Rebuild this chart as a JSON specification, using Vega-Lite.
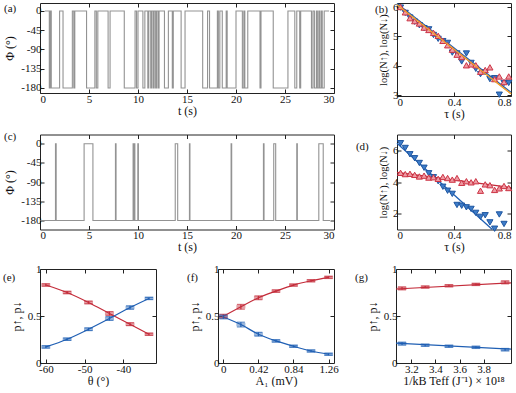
{
 "$schema": "https://vega.github.io/schema/vega-lite/v6.json",
 "background": "white",
 "padding": {"left": 2, "top": 0, "right": 0, "bottom": 0},
 "spacing": 10.5,
 "datasets": {
  "a": [{"t":0.5,"phi":0},{"t":0.95,"phi":-180},{"t":1.05,"phi":0},{"t":1.15,"phi":-180},{"t":2.0,"phi":0},{"t":2.35,"phi":-180},{"t":3.3,"phi":0},{"t":3.45,"phi":-180},{"t":3.55,"phi":0},{"t":4.75,"phi":-180},{"t":5.6,"phi":0},{"t":5.75,"phi":-180},{"t":5.9,"phi":0},{"t":6.95,"phi":-180},{"t":7.15,"phi":0},{"t":8.6,"phi":-180},{"t":9.7,"phi":0},{"t":9.85,"phi":-180},{"t":10.0,"phi":0},{"t":10.5,"phi":-180},{"t":10.7,"phi":0},{"t":11.0,"phi":-180},{"t":11.1,"phi":0},{"t":11.3,"phi":-180},{"t":11.4,"phi":0},{"t":11.55,"phi":-180},{"t":11.65,"phi":0},{"t":11.8,"phi":-180},{"t":11.9,"phi":0},{"t":12.05,"phi":-180},{"t":12.15,"phi":0},{"t":12.7,"phi":-180},{"t":13.1,"phi":0},{"t":13.5,"phi":-180},{"t":13.6,"phi":0},{"t":14.4,"phi":-180},{"t":14.8,"phi":0},{"t":16.6,"phi":-180},{"t":17.1,"phi":0},{"t":17.3,"phi":-180},{"t":18.1,"phi":0},{"t":18.2,"phi":-180},{"t":18.35,"phi":0},{"t":18.6,"phi":-180},{"t":19.0,"phi":0},{"t":19.1,"phi":-180},{"t":20.0,"phi":0},{"t":20.65,"phi":-180},{"t":20.8,"phi":0},{"t":20.9,"phi":-180},{"t":21.2,"phi":0},{"t":22.45,"phi":-180},{"t":22.55,"phi":0},{"t":23.8,"phi":-180},{"t":25.3,"phi":0},{"t":26.0,"phi":-180},{"t":26.2,"phi":0},{"t":26.5,"phi":-180},{"t":26.6,"phi":0},{"t":27.7,"phi":-180},{"t":27.85,"phi":0},{"t":28.0,"phi":-180},{"t":28.2,"phi":0},{"t":28.3,"phi":-180},{"t":28.45,"phi":0},{"t":28.55,"phi":-180},{"t":28.7,"phi":0},{"t":28.8,"phi":-180},{"t":29.0,"phi":0},{"t":29.5,"phi":0}],
  "c": [{"t":0.05,"phi":-180},{"t":1.58,"phi":0},{"t":1.65,"phi":-180},{"t":4.5,"phi":0},{"t":5.4,"phi":-180},{"t":7.7,"phi":0},{"t":7.76,"phi":-180},{"t":9.5,"phi":0},{"t":9.56,"phi":-180},{"t":9.62,"phi":0},{"t":9.68,"phi":-180},{"t":9.98,"phi":0},{"t":10.04,"phi":-180},{"t":13.8,"phi":0},{"t":14.05,"phi":-180},{"t":15.25,"phi":0},{"t":15.3,"phi":-180},{"t":19.5,"phi":0},{"t":19.56,"phi":-180},{"t":22.8,"phi":0},{"t":22.86,"phi":-180},{"t":23.85,"phi":0},{"t":24.05,"phi":-180},{"t":26.2,"phi":0},{"t":26.26,"phi":-180},{"t":28.45,"phi":0},{"t":28.9,"phi":-180},{"t":29.6,"phi":-180}],
  "b_fit": [{"tau":0,"v":6.12,"s":"down"},{"tau":0.8,"v":3.1,"s":"down"},{"tau":0,"v":6.08,"s":"orange"},{"tau":0.8,"v":3.05,"s":"orange"}],
  "b_pts": [
   {"tau":0.025,"v":5.98,"s":"down"},{"tau":0.058,"v":5.80,"s":"down"},{"tau":0.091,"v":5.64,"s":"down"},{"tau":0.124,"v":5.50,"s":"down"},{"tau":0.157,"v":5.38,"s":"down"},{"tau":0.19,"v":5.28,"s":"down"},{"tau":0.223,"v":5.24,"s":"down"},{"tau":0.256,"v":5.05,"s":"down"},{"tau":0.289,"v":4.92,"s":"down"},{"tau":0.322,"v":4.84,"s":"down"},{"tau":0.355,"v":4.78,"s":"down"},{"tau":0.388,"v":4.45,"s":"down"},{"tau":0.421,"v":4.42,"s":"down"},{"tau":0.454,"v":4.15,"s":"down"},{"tau":0.487,"v":4.42,"s":"down"},{"tau":0.52,"v":4.10,"s":"down"},{"tau":0.553,"v":3.90,"s":"down"},{"tau":0.586,"v":3.72,"s":"down"},{"tau":0.619,"v":3.78,"s":"down"},{"tau":0.652,"v":3.55,"s":"down"},{"tau":0.685,"v":3.58,"s":"down"},{"tau":0.718,"v":3.02,"s":"down"},{"tau":0.751,"v":3.42,"s":"down"},{"tau":0.784,"v":3.42,"s":"down"},
   {"tau":0.025,"v":6.0,"s":"up"},{"tau":0.058,"v":5.82,"s":"up"},{"tau":0.091,"v":5.62,"s":"up"},{"tau":0.124,"v":5.52,"s":"up"},{"tau":0.157,"v":5.44,"s":"up"},{"tau":0.19,"v":5.30,"s":"up"},{"tau":0.223,"v":5.22,"s":"up"},{"tau":0.256,"v":5.12,"s":"up"},{"tau":0.289,"v":5.02,"s":"up"},{"tau":0.322,"v":4.85,"s":"up"},{"tau":0.355,"v":4.70,"s":"up"},{"tau":0.388,"v":4.55,"s":"up"},{"tau":0.421,"v":4.38,"s":"up"},{"tau":0.454,"v":4.30,"s":"up"},{"tau":0.487,"v":4.02,"s":"up"},{"tau":0.52,"v":4.05,"s":"up"},{"tau":0.553,"v":4.02,"s":"up"},{"tau":0.586,"v":3.80,"s":"up"},{"tau":0.619,"v":3.86,"s":"up"},{"tau":0.652,"v":3.95,"s":"up"},{"tau":0.685,"v":3.55,"s":"up"},{"tau":0.718,"v":3.64,"s":"up"},{"tau":0.751,"v":3.45,"s":"up"},{"tau":0.784,"v":3.64,"s":"up"}],
  "d_fit": [{"tau":0,"v":6.45,"s":"down"},{"tau":0.669,"v":1.0,"s":"down"},{"tau":0,"v":4.6,"s":"up"},{"tau":0.8,"v":3.65,"s":"up"}],
  "d_pts": [
   {"tau":0.025,"v":6.45,"s":"down"},{"tau":0.058,"v":6.15,"s":"down"},{"tau":0.091,"v":5.75,"s":"down"},{"tau":0.124,"v":5.50,"s":"down"},{"tau":0.157,"v":5.20,"s":"down"},{"tau":0.19,"v":4.90,"s":"down"},{"tau":0.223,"v":4.55,"s":"down"},{"tau":0.256,"v":4.30,"s":"down"},{"tau":0.289,"v":4.05,"s":"down"},{"tau":0.322,"v":3.70,"s":"down"},{"tau":0.355,"v":3.45,"s":"down"},{"tau":0.388,"v":3.25,"s":"down"},{"tau":0.421,"v":2.55,"s":"down"},{"tau":0.454,"v":2.50,"s":"down"},{"tau":0.487,"v":2.40,"s":"down"},{"tau":0.52,"v":2.30,"s":"down"},{"tau":0.553,"v":2.05,"s":"down"},{"tau":0.586,"v":1.80,"s":"down"},{"tau":0.619,"v":1.90,"s":"down"},{"tau":0.652,"v":1.45,"s":"down"},{"tau":0.685,"v":1.05,"s":"down"},{"tau":0.718,"v":1.95,"s":"down"},{"tau":0.751,"v":1.35,"s":"down"},
   {"tau":0.025,"v":4.58,"s":"up"},{"tau":0.058,"v":4.50,"s":"up"},{"tau":0.091,"v":4.52,"s":"up"},{"tau":0.124,"v":4.45,"s":"up"},{"tau":0.157,"v":4.35,"s":"up"},{"tau":0.19,"v":4.40,"s":"up"},{"tau":0.223,"v":4.28,"s":"up"},{"tau":0.256,"v":4.30,"s":"up"},{"tau":0.289,"v":4.20,"s":"up"},{"tau":0.322,"v":4.32,"s":"up"},{"tau":0.355,"v":4.25,"s":"up"},{"tau":0.388,"v":4.15,"s":"up"},{"tau":0.421,"v":4.25,"s":"up"},{"tau":0.454,"v":3.95,"s":"up"},{"tau":0.487,"v":4.05,"s":"up"},{"tau":0.52,"v":3.98,"s":"up"},{"tau":0.553,"v":4.05,"s":"up"},{"tau":0.586,"v":3.45,"s":"up"},{"tau":0.619,"v":3.85,"s":"up"},{"tau":0.652,"v":3.80,"s":"up"},{"tau":0.685,"v":3.50,"s":"up"},{"tau":0.718,"v":3.60,"s":"up"},{"tau":0.751,"v":3.75,"s":"up"},{"tau":0.784,"v":3.62,"s":"up"}],
  "e": [
   {"x":-60,"p":0.83,"lo":0.818,"hi":0.842,"s":"up"},{"x":-54.5,"p":0.75,"lo":0.738,"hi":0.762,"s":"up"},{"x":-49,"p":0.644,"lo":0.63,"hi":0.658,"s":"up"},{"x":-43.6,"p":0.527,"lo":0.507,"hi":0.547,"s":"up"},{"x":-38.3,"p":0.413,"lo":0.398,"hi":0.428,"s":"up"},{"x":-33.4,"p":0.306,"lo":0.295,"hi":0.317,"s":"up"},
   {"x":-60,"p":0.171,"lo":0.159,"hi":0.183,"s":"down"},{"x":-54.5,"p":0.253,"lo":0.241,"hi":0.265,"s":"down"},{"x":-49,"p":0.359,"lo":0.345,"hi":0.373,"s":"down"},{"x":-43.6,"p":0.473,"lo":0.453,"hi":0.493,"s":"down"},{"x":-38.3,"p":0.59,"lo":0.572,"hi":0.608,"s":"down"},{"x":-33.4,"p":0.687,"lo":0.676,"hi":0.698,"s":"down"}],
  "f": [
   {"x":0,"p":0.498,"lo":0.478,"hi":0.518,"s":"up"},{"x":0.21,"p":0.598,"lo":0.573,"hi":0.623,"s":"up"},{"x":0.42,"p":0.694,"lo":0.674,"hi":0.714,"s":"up"},{"x":0.63,"p":0.765,"lo":0.753,"hi":0.777,"s":"up"},{"x":0.84,"p":0.829,"lo":0.819,"hi":0.839,"s":"up"},{"x":1.05,"p":0.875,"lo":0.865,"hi":0.885,"s":"up"},{"x":1.26,"p":0.911,"lo":0.901,"hi":0.921,"s":"up"},
   {"x":0,"p":0.49,"lo":0.47,"hi":0.51,"s":"down"},{"x":0.21,"p":0.409,"lo":0.384,"hi":0.434,"s":"down"},{"x":0.42,"p":0.306,"lo":0.286,"hi":0.326,"s":"down"},{"x":0.63,"p":0.235,"lo":0.223,"hi":0.247,"s":"down"},{"x":0.84,"p":0.178,"lo":0.168,"hi":0.188,"s":"down"},{"x":1.05,"p":0.128,"lo":0.118,"hi":0.138,"s":"down"},{"x":1.26,"p":0.093,"lo":0.083,"hi":0.103,"s":"down"}],
  "g": [
   {"x":3.123,"p":0.794,"lo":0.779,"hi":0.809,"s":"up"},{"x":3.315,"p":0.808,"lo":0.798,"hi":0.818,"s":"up"},{"x":3.512,"p":0.822,"lo":0.812,"hi":0.832,"s":"up"},{"x":3.736,"p":0.836,"lo":0.826,"hi":0.846,"s":"up"},{"x":3.978,"p":0.858,"lo":0.843,"hi":0.873,"s":"up"},
   {"x":3.123,"p":0.206,"lo":0.191,"hi":0.221,"s":"down"},{"x":3.315,"p":0.189,"lo":0.179,"hi":0.199,"s":"down"},{"x":3.512,"p":0.178,"lo":0.168,"hi":0.188,"s":"down"},{"x":3.736,"p":0.167,"lo":0.157,"hi":0.177,"s":"down"},{"x":3.978,"p":0.142,"lo":0.13,"hi":0.154,"s":"down"}],
  "g_fit": [{"x":3.073,"p":0.787,"s":"up"},{"x":4.027,"p":0.852,"s":"up"},{"x":3.073,"p":0.212,"s":"down"},{"x":4.027,"p":0.148,"s":"down"}]
 },
 "vconcat": [
  {"hconcat": [
   {"width": 294, "height": 90,
    "resolve": {"axis": {"x": "independent", "y": "independent"}},
    "layer": [
     {"data": {"name": "a"},
      "mark": {"type": "line", "interpolate": "step-after", "color": "#939393", "strokeWidth": 1.1},
      "encoding": {
       "x": {"field": "t", "type": "quantitative", "scale": {"domain": [0, 30], "nice": false}, "axis": {"values": [0,5,10,15,20,25,30], "title": "t (s)", "labelExpr": "datum.value + ''"}},
       "y": {"field": "phi", "type": "quantitative", "scale": {"domain": [-191.7, 18.7], "nice": false, "zero": false}, "axis": {"values": [0,-45,-90,-135,-180], "title": "Φ (°)", "labelExpr": "datum.value + ''"}}
      }},
     {"data": {"values": [{"lab": "(a)"}]},
      "mark": {"type": "text", "align": "left", "baseline": "middle", "fontSize": 11, "color": "#111"},
      "encoding": {
       "text": {"field": "lab"},
       "x": {"datum": -3.67, "type": "quantitative", "axis": {"orient": "top", "labels": false, "title": null, "values": [5,10,15,20,25]}},
       "y": {"datum": 5.8, "type": "quantitative", "axis": {"orient": "right", "labels": false, "title": null, "values": [0,-45,-90,-135,-180]}}
      }}
    ]},
   {"width": 114, "height": 93,
    "resolve": {"axis": {"x": "independent", "y": "independent"}},
    "layer": [
     {"data": {"name": "b_fit"}, "mark": {"type": "line", "strokeWidth": 1.3},
      "encoding": {
       "x": {"field": "tau", "type": "quantitative", "scale": {"domain": [0, 0.8], "nice": false}, "axis": {"values": [0,0.4,0.8], "title": "τ (s)", "labelExpr": "datum.value + ''"}},
       "y": {"field": "v", "type": "quantitative", "scale": {"domain": [2.976, 6.136], "nice": false, "zero": false}, "axis": {"values": [3,4,5,6], "title": "log(N↑), log(N↓)", "titleFontSize": 10.5, "labelExpr": "datum.value + ''"}},
       "color": {"field": "s", "type": "nominal", "scale": {"domain": ["up","down","orange"], "range": ["#c42c3a","#1f5fb4","#f0a030"]}, "legend": null}}},
     {"data": {"name": "b_pts"}, "mark": {"type": "point", "filled": true, "size": 38, "strokeWidth": 1, "opacity": 1},
      "encoding": {
       "x": {"field": "tau", "type": "quantitative", "axis": null},
       "y": {"field": "v", "type": "quantitative", "axis": null},
       "shape": {"field": "s", "type": "nominal", "scale": {"domain": ["up","down"], "range": ["triangle-up","triangle-down"]}, "legend": null},
       "fill": {"field": "s", "type": "nominal", "scale": {"domain": ["up","down"], "range": ["#ee9aa3","#3d7cc9"]}, "legend": null},
       "stroke": {"field": "s", "type": "nominal", "scale": {"domain": ["up","down"], "range": ["#cc3344","#1f56a0"]}, "legend": null}}},
     {"data": {"name": "b_fit"}, "transform": [{"filter": "datum.s == 'orange'"}], "mark": {"type": "line", "strokeWidth": 1.3},
      "encoding": {
       "x": {"field": "tau", "type": "quantitative", "axis": null},
       "y": {"field": "v", "type": "quantitative", "axis": null},
       "color": {"field": "s", "type": "nominal", "scale": {"domain": ["up","down","orange"], "range": ["#c42c3a","#1f5fb4","#f0a030"]}, "legend": null}}},
     {"data": {"values": [{"lab": "(b)"}]},
      "mark": {"type": "text", "align": "left", "baseline": "middle", "fontSize": 11, "color": "#111"},
      "encoding": {
       "text": {"field": "lab"},
       "x": {"datum": -0.154, "type": "quantitative", "axis": {"orient": "top", "labels": false, "title": null, "values": [0.4]}},
       "y": {"datum": 5.915, "type": "quantitative", "axis": {"orient": "right", "labels": false, "title": null, "values": [3,4,5,6]}}
      }}
    ]}
  ], "spacing": 63, "bounds": "flush"},
  {"vconcat": [
   {"hconcat": [
    {"width": 294, "height": 95,
     "resolve": {"axis": {"x": "independent", "y": "independent"}},
     "layer": [
      {"data": {"name": "c"},
       "mark": {"type": "line", "interpolate": "step-after", "color": "#939393", "strokeWidth": 1.1},
       "encoding": {
        "x": {"field": "t", "type": "quantitative", "scale": {"domain": [0, 30], "nice": false}, "axis": {"values": [0,5,10,15,20,25,30], "title": "t (s)", "labelExpr": "datum.value + ''"}},
        "y": {"field": "phi", "type": "quantitative", "scale": {"domain": [-201.1, 21.8], "nice": false, "zero": false}, "axis": {"values": [0,-45,-90,-135,-180], "title": "Φ (°)", "labelExpr": "datum.value + ''"}}
       }},
      {"data": {"values": [{"lab": "(c)"}]},
       "mark": {"type": "text", "align": "left", "baseline": "middle", "fontSize": 11, "color": "#111"},
       "encoding": {
        "text": {"field": "lab"},
        "x": {"datum": -3.67, "type": "quantitative", "axis": {"orient": "top", "labels": false, "title": null, "values": [5,10,15,20,25]}},
        "y": {"datum": 15.9, "type": "quantitative", "axis": {"orient": "right", "labels": false, "title": null, "values": [0,-45,-90,-135,-180]}}
       }}
     ]},
    {"width": 114, "height": 95,
     "resolve": {"axis": {"x": "independent", "y": "independent"}},
     "layer": [
      {"data": {"name": "d_fit"}, "mark": {"type": "line", "strokeWidth": 1.3},
       "encoding": {
        "x": {"field": "tau", "type": "quantitative", "scale": {"domain": [0, 0.8], "nice": false}, "axis": {"values": [0,0.4,0.8], "title": "τ (s)", "labelExpr": "datum.value + ''"}},
        "y": {"field": "v", "type": "quantitative", "scale": {"domain": [1, 7], "nice": false, "zero": false}, "axis": {"values": [2,4,6], "title": "log(N↑), log(N↓)", "titleFontSize": 10.5, "labelExpr": "datum.value + ''"}},
        "color": {"field": "s", "type": "nominal", "scale": {"domain": ["up","down","orange"], "range": ["#c42c3a","#1f5fb4","#f0a030"]}, "legend": null}}},
      {"data": {"name": "d_pts"}, "mark": {"type": "point", "filled": true, "size": 38, "strokeWidth": 1, "opacity": 1},
       "encoding": {
        "x": {"field": "tau", "type": "quantitative", "axis": null},
        "y": {"field": "v", "type": "quantitative", "axis": null},
        "shape": {"field": "s", "type": "nominal", "scale": {"domain": ["up","down"], "range": ["triangle-up","triangle-down"]}, "legend": null},
        "fill": {"field": "s", "type": "nominal", "scale": {"domain": ["up","down"], "range": ["#ee9aa3","#3d7cc9"]}, "legend": null},
        "stroke": {"field": "s", "type": "nominal", "scale": {"domain": ["up","down"], "range": ["#cc3344","#1f56a0"]}, "legend": null}}},
      {"data": {"values": [{"lab": "(d)"}]},
       "mark": {"type": "text", "align": "left", "baseline": "middle", "fontSize": 11, "color": "#111"},
       "encoding": {
        "text": {"field": "lab"},
        "x": {"datum": -0.288, "type": "quantitative", "axis": {"orient": "top", "labels": false, "title": null, "values": [0.4]}},
        "y": {"datum": 6.21, "type": "quantitative", "axis": {"orient": "right", "labels": false, "title": null, "values": [2,4,6]}}
       }}
     ]}
   ], "spacing": 63, "bounds": "flush"},
   {"hconcat": [
    {"width": 116, "height": 94,
     "data": {"name": "e"},
     "resolve": {"axis": {"x": "independent", "y": "independent"}},
     "layer": [
      {"mark": {"type": "line", "interpolate": "monotone", "strokeWidth": 1.2},
       "encoding": {
        "x": {"field": "x", "type": "quantitative", "scale": {"domain": [-61.5, -31.6], "nice": false, "zero": false}, "axis": {"values": [-60,-50,-40], "title": "θ (°)", "labelExpr": "datum.value + ''"}},
        "y": {"field": "p", "type": "quantitative", "scale": {"domain": [0, 1], "nice": false}, "axis": {"values": [0,0.5,1], "title": "p↑, p↓", "labelExpr": "datum.value + ''"}},
        "color": {"field": "s", "type": "nominal", "scale": {"domain": ["up","down","orange"], "range": ["#c42c3a","#1f5fb4","#f0a030"]}, "legend": null}}},
      {"mark": {"type": "tick", "orient": "horizontal", "size": 9, "thickness": 3.5, "opacity": 0.45},
       "encoding": {
        "x": {"field": "x", "type": "quantitative", "axis": null},
        "y": {"field": "p", "type": "quantitative", "axis": null},
        "color": {"field": "s", "type": "nominal", "scale": {"domain": ["up","down","orange"], "range": ["#c42c3a","#1f5fb4","#f0a030"]}, "legend": null}}},
      {"mark": {"type": "errorbar", "ticks": true, "size": 8, "thickness": 1.2},
       "encoding": {
        "x": {"field": "x", "type": "quantitative", "axis": null},
        "y": {"field": "lo", "type": "quantitative", "axis": null},
        "y2": {"field": "hi"},
        "color": {"field": "s", "type": "nominal", "scale": {"domain": ["up","down","orange"], "range": ["#c42c3a","#1f5fb4","#f0a030"]}, "legend": null}}},
      {"data": {"values": [{"lab": "(e)"}]},
       "mark": {"type": "text", "align": "left", "baseline": "middle", "fontSize": 11, "color": "#111"},
       "encoding": {
        "text": {"field": "lab"},
        "x": {"datum": -71.04, "type": "quantitative", "axis": {"orient": "top", "labels": false, "title": null, "values": [-60,-50,-40]}},
        "y": {"datum": 0.904, "type": "quantitative", "axis": {"orient": "right", "labels": false, "title": null, "values": [0.5]}}
       }}
     ]},
    {"width": 116, "height": 94,
     "data": {"name": "f"},
     "resolve": {"axis": {"x": "independent", "y": "independent"}},
     "layer": [
      {"mark": {"type": "line", "interpolate": "monotone", "strokeWidth": 1.2},
       "encoding": {
        "x": {"field": "x", "type": "quantitative", "scale": {"domain": [-0.064, 1.325], "nice": false, "zero": false}, "axis": {"values": [0,0.42,0.84,1.26], "title": "A₁ (mV)", "labelExpr": "datum.value + ''"}},
        "y": {"field": "p", "type": "quantitative", "scale": {"domain": [0, 1], "nice": false}, "axis": {"values": [0,0.5,1], "title": "p↑, p↓", "labelExpr": "datum.value + ''"}},
        "color": {"field": "s", "type": "nominal", "scale": {"domain": ["up","down","orange"], "range": ["#c42c3a","#1f5fb4","#f0a030"]}, "legend": null}}},
      {"mark": {"type": "tick", "orient": "horizontal", "size": 9, "thickness": 3.5, "opacity": 0.45},
       "encoding": {
        "x": {"field": "x", "type": "quantitative", "axis": null},
        "y": {"field": "p", "type": "quantitative", "axis": null},
        "color": {"field": "s", "type": "nominal", "scale": {"domain": ["up","down","orange"], "range": ["#c42c3a","#1f5fb4","#f0a030"]}, "legend": null}}},
      {"mark": {"type": "errorbar", "ticks": true, "size": 8, "thickness": 1.2},
       "encoding": {
        "x": {"field": "x", "type": "quantitative", "axis": null},
        "y": {"field": "lo", "type": "quantitative", "axis": null},
        "y2": {"field": "hi"},
        "color": {"field": "s", "type": "nominal", "scale": {"domain": ["up","down","orange"], "range": ["#c42c3a","#1f5fb4","#f0a030"]}, "legend": null}}},
      {"data": {"values": [{"lab": "(f)"}]},
       "mark": {"type": "text", "align": "left", "baseline": "middle", "fontSize": 11, "color": "#111"},
       "encoding": {
        "text": {"field": "lab"},
        "x": {"datum": -0.435, "type": "quantitative", "axis": {"orient": "top", "labels": false, "title": null, "values": [0,0.42,0.84,1.26]}},
        "y": {"datum": 0.904, "type": "quantitative", "axis": {"orient": "right", "labels": false, "title": null, "values": [0.5]}}
       }}
     ]},
    {"width": 115, "height": 94,
     "resolve": {"axis": {"x": "independent", "y": "independent"}},
     "layer": [
      {"data": {"name": "g_fit"}, "mark": {"type": "line", "strokeWidth": 1.2},
       "encoding": {
        "x": {"field": "x", "type": "quantitative", "scale": {"domain": [3.073, 4.027], "nice": false, "zero": false}, "axis": {"values": [3.2,3.4,3.6,3.8], "title": "1/kB Teff (J⁻¹) × 10¹⁸", "labelExpr": "datum.value + ''"}},
        "y": {"field": "p", "type": "quantitative", "scale": {"domain": [0, 1], "nice": false}, "axis": {"values": [0,0.5,1], "title": "p↑, p↓", "labelExpr": "datum.value + ''"}},
        "color": {"field": "s", "type": "nominal", "scale": {"domain": ["up","down","orange"], "range": ["#c42c3a","#1f5fb4","#f0a030"]}, "legend": null}}},
      {"data": {"name": "g"}, "mark": {"type": "tick", "orient": "horizontal", "size": 9, "thickness": 3.5, "opacity": 0.45},
       "encoding": {
        "x": {"field": "x", "type": "quantitative", "axis": null},
        "y": {"field": "p", "type": "quantitative", "axis": null},
        "color": {"field": "s", "type": "nominal", "scale": {"domain": ["up","down","orange"], "range": ["#c42c3a","#1f5fb4","#f0a030"]}, "legend": null}}},
      {"data": {"name": "g"}, "mark": {"type": "errorbar", "ticks": true, "size": 8, "thickness": 1.2},
       "encoding": {
        "x": {"field": "x", "type": "quantitative", "axis": null},
        "y": {"field": "lo", "type": "quantitative", "axis": null},
        "y2": {"field": "hi"},
        "color": {"field": "s", "type": "nominal", "scale": {"domain": ["up","down","orange"], "range": ["#c42c3a","#1f5fb4","#f0a030"]}, "legend": null}}},
      {"data": {"values": [{"lab": "(g)"}]},
       "mark": {"type": "text", "align": "left", "baseline": "middle", "fontSize": 11, "color": "#111"},
       "encoding": {
        "text": {"field": "lab"},
        "x": {"datum": 2.733, "type": "quantitative", "axis": {"orient": "top", "labels": false, "title": null, "values": [3.2,3.4,3.6,3.8]}},
        "y": {"datum": 0.904, "type": "quantitative", "axis": {"orient": "right", "labels": false, "title": null, "values": [0.5]}}
       }}
     ]}
   ], "spacing": 62, "bounds": "flush"}
  ], "spacing": 8.5}
 ],
 "config": {
  "font": "Liberation Serif",
  "view": {"stroke": "#222", "strokeWidth": 1},
  "axis": {"domain": false, "grid": false, "tickSize": -4, "tickColor": "#222", "labelFont": "Liberation Serif", "titleFont": "Liberation Serif", "labelFontSize": 11, "titleFontSize": 12, "titleFontWeight": "normal", "labelColor": "#111", "titleColor": "#111", "labelPadding": 3, "labelOverlap": false},
  "axisX": {"labelPadding": 4, "titlePadding": 1},
  "axisY": {"titlePadding": 4}
 }
}
